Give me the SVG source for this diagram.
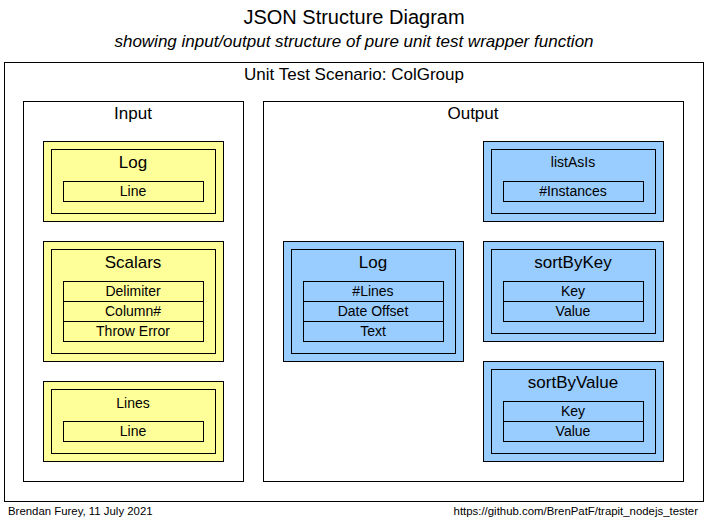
<svg xmlns="http://www.w3.org/2000/svg" width="708" height="520" viewBox="0 0 708 520">
<style>
text{font-family:"Liberation Sans",Arial,sans-serif;fill:#000;text-anchor:middle}
.frame{fill:#fff;stroke:#000;stroke-width:1}
.y{fill:#ffff99;stroke:#000;stroke-width:1}
.b{fill:#99ccff;stroke:#000;stroke-width:1}
.t18{font-size:20px}
.t16{font-size:17px}
.t14{font-size:14px}
.f{font-size:14px}
.ft{font-size:11.4px}
</style>
<rect width="708" height="520" fill="#fff"/>
<text class="t18" x="354" y="24">JSON Structure Diagram</text>
<text class="t16" x="354" y="47" font-style="italic">showing input/output structure of pure unit test wrapper function</text>
<g id="scenario">
<rect class="frame" x="4.5" y="62.5" width="699" height="439"/>
<text class="t16" x="354" y="80">Unit Test Scenario: ColGroup</text>
</g>
<g id="input">
<rect class="frame" x="23.5" y="101.5" width="220" height="380"/>
<text class="t16" x="133" y="119">Input</text>
</g>
<g id="output">
<rect class="frame" x="263.5" y="101.5" width="420" height="380"/>
<text class="t16" x="473" y="119">Output</text>
</g>
<g id="in-log">
<rect class="y" x="43.5" y="141.5" width="180" height="80"/>
<rect class="y" x="51.5" y="149.5" width="164" height="64"/>
<text class="t16" x="133" y="168">Log</text>
<rect class="y" x="63.5" y="181.5" width="140" height="20"/>
<text class="f" x="133" y="196">Line</text>
</g>
<g id="in-scalars">
<rect class="y" x="43.5" y="241.5" width="180" height="120"/>
<rect class="y" x="51.5" y="249.5" width="164" height="104"/>
<text class="t16" x="133" y="268">Scalars</text>
<rect class="y" x="63.5" y="281.5" width="140" height="20"/>
<text class="f" x="133" y="296">Delimiter</text>
<rect class="y" x="63.5" y="301.5" width="140" height="20"/>
<text class="f" x="133" y="316">Column#</text>
<rect class="y" x="63.5" y="321.5" width="140" height="20"/>
<text class="f" x="133" y="336">Throw Error</text>
</g>
<g id="in-lines">
<rect class="y" x="43.5" y="381.5" width="180" height="80"/>
<rect class="y" x="51.5" y="389.5" width="164" height="64"/>
<text class="t14" x="133" y="408">Lines</text>
<rect class="y" x="63.5" y="421.5" width="140" height="20"/>
<text class="f" x="133" y="436">Line</text>
</g>
<g id="out-listAsIs">
<rect class="b" x="483.5" y="141.5" width="180" height="80"/>
<rect class="b" x="491.5" y="149.5" width="164" height="64"/>
<text class="t14" x="573" y="167">listAsIs</text>
<rect class="b" x="503.5" y="181.5" width="140" height="20"/>
<text class="f" x="573" y="196">#Instances</text>
</g>
<g id="out-log">
<rect class="b" x="283.5" y="241.5" width="180" height="120"/>
<rect class="b" x="291.5" y="249.5" width="164" height="104"/>
<text class="t16" x="373" y="268">Log</text>
<rect class="b" x="303.5" y="281.5" width="140" height="20"/>
<text class="f" x="373" y="296">#Lines</text>
<rect class="b" x="303.5" y="301.5" width="140" height="20"/>
<text class="f" x="373" y="316">Date Offset</text>
<rect class="b" x="303.5" y="321.5" width="140" height="20"/>
<text class="f" x="373" y="336">Text</text>
</g>
<g id="out-sortByKey">
<rect class="b" x="483.5" y="241.5" width="180" height="100"/>
<rect class="b" x="491.5" y="249.5" width="164" height="84"/>
<text class="t16" x="573" y="268">sortByKey</text>
<rect class="b" x="503.5" y="281.5" width="140" height="20"/>
<text class="f" x="573" y="296">Key</text>
<rect class="b" x="503.5" y="301.5" width="140" height="20"/>
<text class="f" x="573" y="316">Value</text>
</g>
<g id="out-sortByValue">
<rect class="b" x="483.5" y="361.5" width="180" height="100"/>
<rect class="b" x="491.5" y="369.5" width="164" height="84"/>
<text class="t16" x="573" y="388">sortByValue</text>
<rect class="b" x="503.5" y="401.5" width="140" height="20"/>
<text class="f" x="573" y="416">Key</text>
<rect class="b" x="503.5" y="421.5" width="140" height="20"/>
<text class="f" x="573" y="436">Value</text>
</g>
<g id="connectors"/>
<text class="ft" x="8" y="515" style="text-anchor:start">Brendan Furey, 11 July 2021</text>
<text class="ft" x="698" y="515" style="text-anchor:end">https://github.com/BrenPatF/trapit_nodejs_tester</text>
</svg>
